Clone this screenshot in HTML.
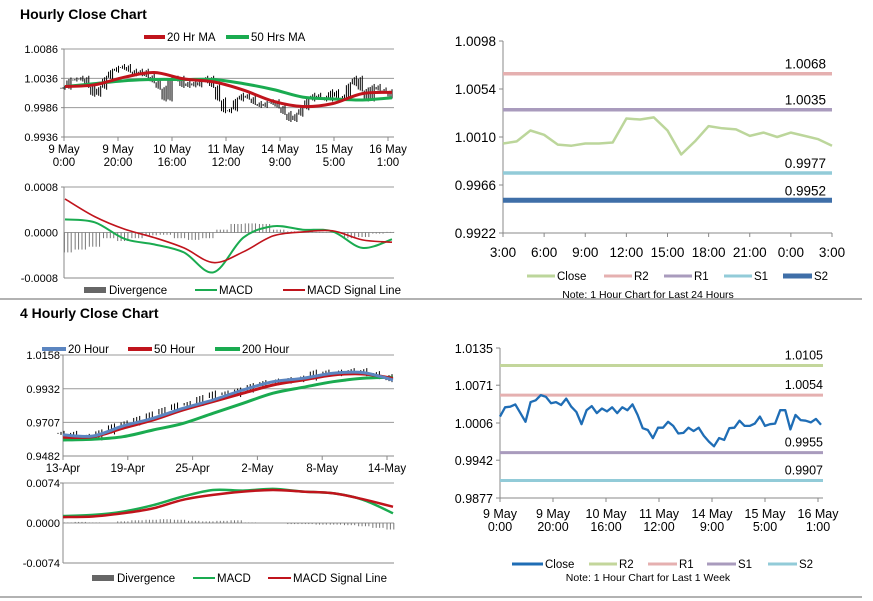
<!DOCTYPE html>
<html><head><meta charset="utf-8"><style>
body{margin:0;background:#fff;}
svg{display:block;font-family:"Liberation Sans",Arial,sans-serif;}
</style></head><body>
<svg id="s" width="873" height="601" viewBox="0 0 873 601">
<text x="20" y="19" font-size="14" font-weight="bold">Hourly Close Chart</text>
<text x="20" y="318" font-size="14" font-weight="bold">4 Hourly Close Chart</text>
<line x1="0" y1="299" x2="862" y2="299" stroke="#999" stroke-width="1.5"/>
<line x1="0" y1="597" x2="862" y2="597" stroke="#999" stroke-width="1.5"/>
<g id="g"></g>
</svg>
<script>
// ---- Panel 1: hourly price (top-left)
const p1Close=[1.0020,1.0034,1.0034,1.0037,1.0023,1.0008,1.0020,1.0037,1.0049,1.0054,1.0057,1.0049,1.0043,1.0049,1.0040,1.0031,1.0020,1.0000,1.0034,1.0037,1.0023,1.0029,1.0024,1.0031,1.0037,1.0023,1.0000,0.9980,0.9983,1.0000,1.0008,1.0003,0.9994,0.9989,0.9994,0.9997,0.9988,0.9977,0.9965,0.9974,0.9985,1.0000,1.0008,1.0003,1.0000,1.0014,1.0005,1.0003,1.0026,1.0037,1.0017,1.0000,1.0023,1.0017,1.0014,1.0005];
const p1MA20=[1.0022,1.0025,1.0038,1.0046,1.0035,1.0030,1.0016,0.9997,0.9988,0.9993,1.0010,1.0012];
const p1MA50=[1.0022,1.0027,1.0032,1.0034,1.0034,1.0034,1.0027,1.0017,1.0004,1.0001,0.9999,1.0003];
const p1YTicks=[1.0086,1.0036,0.9986,0.9936];
const p1XLabels=[["9 May","0:00"],["9 May","20:00"],["10 May","16:00"],["11 May","12:00"],["14 May","9:00"],["15 May","5:00"],["16 May","1:00"]];
// ---- Panel 2: hourly MACD
const m1Signal=[0.00059,0.00028,0.00006,-0.00009,-0.00027,-0.00053,-0.00034,-0.00006,0.00001,0.00003,-0.00013,-0.00017];
const m1Macd=[0.00023,0.00018,-0.00011,-0.00021,-0.00035,-0.00070,-0.00009,0.00011,0.00005,0.00002,-0.00027,-0.00012];
const m1Div=[-0.00035,-0.00030,-0.00025,-0.00010,-0.00015,-0.00010,-0.00005,-0.00004,-0.00010,-0.00013,-0.00010,0.00005,0.00015,0.00016,0.00015,0.00005,0.00002,0.00002,0.00001,0,-0.00010,-0.00008,-0.00002,0.00001];
const m1YTicks=[0.0008,0.0000,-0.0008];
// ---- Panel 3: 24h levels (top-right)
const c24=[1.0004,1.0006,1.0016,1.0012,1.0003,1.0002,1.0004,1.0004,1.0005,1.0027,1.0026,1.0028,1.0016,0.9994,1.0006,1.0020,1.0018,1.0017,1.0011,1.0014,1.0010,1.0014,1.0011,1.0008,1.0002];
const lv24=[1.0068,1.0035,0.9977,0.9952];
const lv24Names=["R2","R1","S1","S2"];
const c24YTicks=[1.0098,1.0054,1.0010,0.9966,0.9922];
const c24XLabels=["3:00","6:00","9:00","12:00","15:00","18:00","21:00","0:00","3:00"];
// ---- Panel 4: 4-hourly price (bottom-left)
const h20=[0.9623,0.9616,0.9683,0.9734,0.9801,0.9857,0.9924,0.9979,1.0002,1.0036,1.0040,0.9991];
const h50=[0.9607,0.9611,0.9668,0.9723,0.9790,0.9846,0.9902,0.9957,0.9991,1.0024,1.0031,1.0002];
const h200=[0.9589,0.9594,0.9611,0.9656,0.9700,0.9768,0.9835,0.9902,0.9942,0.9979,1.0002,1.0009];
const h4Close=[0.9630,0.9610,0.9600,0.9640,0.9680,0.9700,0.9730,0.9760,0.9790,0.9820,0.9830,0.9870,0.9900,0.9890,0.9920,0.9950,0.9970,0.9980,0.9990,1.0000,1.0040,1.0030,1.0040,1.0050,1.0030,1.0010,0.9990];
const h4YTicks=[1.0158,0.9932,0.9707,0.9482];
const h4XLabels=["13-Apr","19-Apr","25-Apr","2-May","8-May","14-May"];
// ---- Panel 5: 4-hourly MACD
const m2Macd=[0.0013,0.0015,0.0021,0.0033,0.0049,0.0061,0.0060,0.0063,0.0058,0.0055,0.0043,0.0018];
const m2Signal=[0.0011,0.0012,0.0018,0.0027,0.0043,0.0052,0.0058,0.0061,0.0058,0.0055,0.0044,0.0030];
const m2Div=[0.0001,0.0002,0.0001,0.0000,0.0003,0.0005,0.0006,0.0007,0.0006,0.0004,0.0003,0.0004,0.0005,0.0001,0.0000,0.0000,-0.0002,-0.0002,-0.0003,-0.0003,-0.0004,-0.0006,-0.0009,-0.0012];
const m2YTicks=[0.0074,0.0000,-0.0074];
// ---- Panel 6: weekly levels (bottom-right)
const cw=[1.0017,1.0033,1.0034,1.0038,1.0023,1.0008,1.0042,1.0045,1.0054,1.0051,1.0040,1.0042,1.0037,1.0048,1.0034,1.0025,1.0004,1.0028,1.0035,1.0023,1.0031,1.0026,1.0033,1.0023,1.0033,1.0028,1.0038,1.0020,0.9997,0.9994,0.9980,0.9998,0.9998,1.0008,1.0001,0.9988,0.9989,0.9998,0.9992,0.9998,0.9984,0.9974,0.9966,0.9980,0.9977,0.9997,0.9998,1.0010,1.0001,1.0001,1.0005,1.0017,1.0001,1.0004,1.0005,1.0028,1.0028,0.9995,1.0020,1.0011,1.0010,1.0007,1.0013,1.0003];
const lvW=[1.0105,1.0054,0.9955,0.9907];
const lvWNames=["R2","R1","S1","S2"];
const cwYTicks=[1.0135,1.0071,1.0006,0.9942,0.9877];
const cwXLabels=[["9 May","0:00"],["9 May","20:00"],["10 May","16:00"],["11 May","12:00"],["14 May","9:00"],["15 May","5:00"],["16 May","1:00"]];

const NS="http://www.w3.org/2000/svg";
const G=document.getElementById('g');
function mk(tag,attrs,parent,text){const e=document.createElementNS(NS,tag);for(const k in attrs)e.setAttribute(k,attrs[k]);if(text!==undefined)e.textContent=text;(parent||G).appendChild(e);return e;}
function lin(d0,d1,r0,r1){return v=>r0+(v-d0)/(d1-d0)*(r1-r0);}
function path(vals,xf,yf,color,w,name,smooth){
  const P=vals.map((v,i)=>[xf(i),yf(v)]);
  let d="M"+P[0][0].toFixed(1)+","+P[0][1].toFixed(1);
  for(let i=1;i<P.length;i++){
    if(smooth){const p0=P[Math.max(i-2,0)],p1=P[i-1],p2=P[i],p3=P[Math.min(i+1,P.length-1)];
      const c1=[p1[0]+(p2[0]-p0[0])/6,p1[1]+(p2[1]-p0[1])/6],c2=[p2[0]-(p3[0]-p1[0])/6,p2[1]-(p3[1]-p1[1])/6];
      d+="C"+c1[0].toFixed(1)+","+c1[1].toFixed(1)+" "+c2[0].toFixed(1)+","+c2[1].toFixed(1)+" "+p2[0].toFixed(1)+","+p2[1].toFixed(1);}
    else d+="L"+P[i][0].toFixed(1)+","+P[i][1].toFixed(1);
  }
  const p=mk('path',{d:d,fill:'none',stroke:color,'stroke-width':w,'stroke-linejoin':'round'});
  
  
  return p;
}
function hline(x1,x2,y,color,w,name){const l=mk('line',{x1:x1,x2:x2,y1:y,y2:y,stroke:color,'stroke-width':w});
  
  return l;}
function txt(x,y,s,size,anchor,name,color){const t=mk('text',{x:x,y:y,'font-size':size,'text-anchor':anchor||'start',fill:color||'#000'},G,s);
  
  return t;}
function legendLine(x1,x2,y,color,w,label,name){
  const g=mk('g',{});
  
  
  mk('line',{x1:x1,x2:x2,y1:y,y2:y,stroke:color,'stroke-width':w},g);
  mk('text',{x:x2+2,y:y+4,'font-size':11.5},g,label);
}
function axes(x0,x1,y0,y1,name){
  hline(x0-3,x0,y0,'#888',1,name+'-tick');
  mk('line',{x1:x0,x2:x0,y1:y0,y2:y1,stroke:'#888','stroke-width':1});
  mk('line',{x1:x0,x2:x1,y1:y1,y2:y1,stroke:'#888','stroke-width':1});
}

// ===== Panel 1
{const X0=64,X1=394,ys=lin(1.0086,0.9936,49,137);
 p1YTicks.forEach((t,i)=>{ if(i<p1YTicks.length-1) hline(X0,X1,ys(t),'#999',1,'p1-gridline'); hline(X0-3,X0,ys(t),'#888',1,'p1-y-tick'); txt(X0-6,ys(t)+4,t.toFixed(4),11,'end','p1-y-label');});
 axes(X0,X1,49,137,'p1');
 const tx=lin(0,6,64,388);
 p1XLabels.forEach((l,i)=>{mk('line',{x1:tx(i),x2:tx(i),y1:137,y2:141,stroke:'#888'});txt(tx(i),153,l[0],11.5,'middle','p1-x-label');txt(tx(i),166,l[1],11.5,'middle','p1-x-label');});
 const xc=lin(0,p1Close.length-1,65,392);
 p1Close.forEach((v,i)=>{const pv=i?p1Close[i-1]:v;const a=Math.min(ys(v),ys(pv))-2,b=Math.max(ys(v),ys(pv))+2;
   for(let k=0;k<3;k++){const x=xc(i)-k*2;
   const l=mk('line',{x1:x,x2:x,y1:a+k*1.5,y2:b-k,stroke:'#000','stroke-width':1});
   
   }});
 const xm=lin(0,p1MA20.length-1,65,392);
 path(p1MA50,xm,ys,'#1aab50',3,'p1-ma50-line',true);
 path(p1MA20,xm,ys,'#c0141c',3,'p1-ma20-line',true);
 legendLine(144,165,37,'#c0141c',4,'20 Hr MA','legend-20hr-ma');
 legendLine(226,249,37,'#1aab50',4,'50 Hrs MA','legend-50hrs-ma');
}
// ===== Panel 2
{const X0=64,X1=394,ys=lin(0.0008,-0.0008,187,278);
 m1YTicks.forEach(t=>{hline(X0,X1,ys(t),'#999',1,'m1-gridline');txt(X0-6,ys(t)+4,t.toFixed(4),11,'end','m1-y-label');});
 axes(X0,X1,187,278,'m1');
 const xd=lin(0,m1Div.length-1,66,392);
 m1Div.forEach((v,i)=>{for(let k=0;k<4;k++){const x=xd(i)+k*3.4-5;if(x>X1||x<X0)continue;
   const l=mk('line',{x1:x,x2:x,y1:ys(0),y2:ys(v),stroke:'#777','stroke-width':1});
   
   }});
 const xm=lin(0,m1Macd.length-1,65,392);
 path(m1Macd,xm,ys,'#1aab50',2,'m1-macd-line',true);
 path(m1Signal,xm,ys,'#c0141c',1.6,'m1-signal-line',true);
 const g=mk('g',{});
 mk('rect',{x:84,y:287,width:22,height:6,fill:'#666'},g);mk('text',{x:109,y:294,'font-size':11.5},g,'Divergence');
 legendLine(195,217,290,'#1aab50',2,'MACD','legend-macd');
 legendLine(283,305,290,'#c0141c',2,'MACD Signal Line','legend-signal');
}
// ===== Panel 3
{const X0=503,X1=832,ys=lin(1.0098,0.9922,41,233);
 c24YTicks.forEach(t=>{hline(X0-4,X0,ys(t),'#888',1,'c24-y-tick');txt(X0-7,ys(t)+5,t.toFixed(4),13.5,'end','c24-y-label');});
 axes(X0,X1,41,233,'c24');
 const tx=lin(0,8,503,832);
 c24XLabels.forEach((l,i)=>{mk('line',{x1:tx(i),x2:tx(i),y1:233,y2:237,stroke:'#888'});txt(tx(i),257,l,13.5,'middle','c24-x-label');});
 const cols=['#e5b0b0','#a99bbd','#92cbd8','#3f6fa8'],ws=[3.5,3.5,3.5,5];
 lv24.forEach((v,i)=>{hline(X0,X1,ys(v),cols[i],ws[i],'c24-level-'+lv24Names[i]);txt(826,ys(v)-5,v.toFixed(4),13.5,'end','c24-level-label');});
 const xc=lin(0,c24.length-1,X0,X1);
 path(c24,xc,ys,'#bcd69b',2.5,'c24-close-line');
 legendLine(527,555,276,'#bcd69b',3,'Close','legend-close');
 legendLine(604,632,276,'#e5b0b0',3,'R2','legend-r2');
 legendLine(664,692,276,'#a99bbd',3,'R1','legend-r1');
 legendLine(724,752,276,'#92cbd8',3,'S1','legend-s1');
 legendLine(783,812,276,'#3f6fa8',5,'S2','legend-s2');
 txt(648,298,'Note: 1 Hour Chart for Last 24 Hours',10.5,'middle','c24-note');
}
// ===== Panel 4
{const X0=63,X1=394,ys=lin(1.0158,0.9482,355,456);
 h4YTicks.forEach((t,i)=>{if(i<h4YTicks.length-1)hline(X0,X1,ys(t),'#999',1,'h4-gridline');txt(X0-3,ys(t)+4,t.toFixed(4),11,'end','h4-y-label');});
 axes(X0,X1,355,456,'h4');
 const tx=lin(0,5,63,387);
 h4XLabels.forEach((l,i)=>{mk('line',{x1:tx(i),x2:tx(i),y1:456,y2:460,stroke:'#888'});txt(tx(i),472,l,11.5,'middle','h4-x-label');});
 const xc=lin(0,h4Close.length-1,64,392);
 h4Close.forEach((v,i)=>{const pv=i?h4Close[i-1]:v;const a=Math.min(ys(v),ys(pv))-3,b=Math.max(ys(v),ys(pv))+2;
   for(let k=0;k<3;k++){const x=xc(i)-k*3;
   const l=mk('line',{x1:x,x2:x,y1:a+k,y2:b-k,stroke:'#000','stroke-width':1});
   
   }});
 const xm=lin(0,h20.length-1,63,393);
 path(h200,xm,ys,'#1aab50',3,'h4-200h-line',true);
 path(h50,xm,ys,'#c0141c',3,'h4-50h-line',true);
 path(h20,xm,ys,'#5b85c0',3,'h4-20h-line',true);
 legendLine(42,66,349,'#5b85c0',4,'20 Hour','legend-20-hour');
 legendLine(128,152,349,'#c0141c',4,'50 Hour','legend-50-hour');
 legendLine(215,240,349,'#1aab50',4,'200 Hour','legend-200-hour');
}
// ===== Panel 5
{const X0=63,X1=394,ys=lin(0.0074,-0.0074,483,563);
 m2YTicks.forEach(t=>{hline(X0,X1,ys(t),'#999',1,'m2-gridline');txt(X0-3,ys(t)+4,t.toFixed(4),11,'end','m2-y-label');});
 axes(X0,X1,483,563,'m2');
 const xd=lin(0,m2Div.length-1,66,392);
 m2Div.forEach((v,i)=>{for(let k=0;k<4;k++){const x=xd(i)+k*3.4-5;if(x>X1||x<X0)continue;
   const l=mk('line',{x1:x,x2:x,y1:ys(0),y2:ys(v),stroke:'#777','stroke-width':1});
   
   }});
 const xm=lin(0,m2Macd.length-1,63,393);
 path(m2Macd,xm,ys,'#1aab50',2.5,'m2-macd-line',true);
 path(m2Signal,xm,ys,'#c0141c',2.5,'m2-signal-line',true);
 const g=mk('g',{});
 mk('rect',{x:92,y:575,width:22,height:6,fill:'#666'},g);mk('text',{x:117,y:582,'font-size':11.5},g,'Divergence');
 legendLine(193,215,578,'#1aab50',2,'MACD','legend-macd-4h');
 legendLine(268,291,578,'#c0141c',2,'MACD Signal Line','legend-signal-4h');
}
// ===== Panel 6
{const X0=500,X1=823,ys=lin(1.0135,0.9877,348,498);
 cwYTicks.forEach(t=>{hline(X0-4,X0,ys(t),'#888',1,'cw-y-tick');txt(X0-7,ys(t)+5,t.toFixed(4),12.5,'end','cw-y-label');});
 axes(X0,X1,348,498,'cw');
 const tx=lin(0,6,500,818);
 cwXLabels.forEach((l,i)=>{mk('line',{x1:tx(i),x2:tx(i),y1:498,y2:502,stroke:'#888'});txt(tx(i),518,l[0],12.5,'middle','cw-x-label');txt(tx(i),531,l[1],12.5,'middle','cw-x-label');});
 const cols=['#c3d69b','#e5b0b0','#a99bbd','#92cbd8'];
 lvW.forEach((v,i)=>{hline(X0,X1,ys(v),cols[i],3,'cw-level-'+lvWNames[i]);txt(823,ys(v)-6,v.toFixed(4),12.5,'end','cw-level-label');});
 const xc=lin(0,cw.length-1,X0,821);
 path(cw,xc,ys,'#1f6db5',2.3,'cw-close-line');
 legendLine(512,543,564,'#1f6db5',3,'Close','legend-close-week');
 legendLine(589,617,564,'#c3d69b',3,'R2','legend-r2-week');
 legendLine(648,677,564,'#e5b0b0',3,'R1','legend-r1-week');
 legendLine(707,736,564,'#a99bbd',3,'S1','legend-s1-week');
 legendLine(768,797,564,'#92cbd8',3,'S2','legend-s2-week');
 txt(648,581,'Note: 1 Hour Chart for Last 1 Week',10.5,'middle','cw-note');
}
</script>
</body></html>
